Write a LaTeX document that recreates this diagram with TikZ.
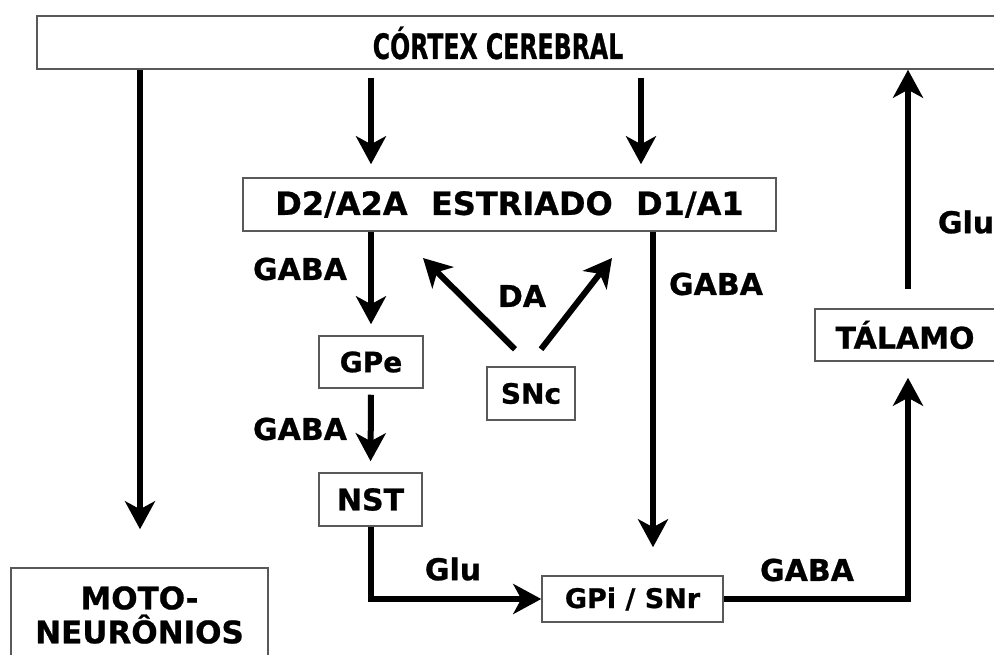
\documentclass[tikz,border=0pt]{standalone}
\usepackage{fontspec}
\setmainfont{DejaVu Sans}
\newfontfamily\heavyfont[FakeBold=0.8]{DejaVu Sans Bold}
\newfontfamily\condfont[FakeBold=0.8]{DejaVu Sans Condensed Bold}
\usetikzlibrary{arrows.meta,calc}
\tikzstyle{box} = [rectangle, draw=black!65, line width=1.5pt, inner sep=0pt,
font=\heavyfont\fontsize{30}{36}\selectfont]
\tikzstyle{line} = [draw, line width=6pt, -{Stealth[length=28pt,width=30pt,inset=8pt]}]
\tikzstyle{lbl} = [inner sep=0pt, font=\heavyfont\fontsize{30}{36}\selectfont]

\begin{document}
\begin{tikzpicture}[x=1pt, y=-1pt]
	\clip (0,0) rectangle (994,655);
	\fill[white] (0,0) rectangle (994,655);
	%% Boxes
	\node [box, minimum width=980pt, minimum height=53pt] (cortex) at (527,42.5) {};
	\node [lbl, font=\condfont\fontsize{35}{40}\selectfont] (cortextxt) at (498,43) {\scalebox{0.75}[1]{CÓRTEX CEREBRAL}};
	\node [box, minimum width=533pt, minimum height=53pt, font=\heavyfont\fontsize{32}{36}\selectfont] (estriado) at (509.5,204.5) {D2/A2A\hspace{0.73em}ESTRIADO\hspace{0.73em}D1/A1\hspace{24pt}};
	\node [box, minimum width=104pt, minimum height=52pt, font=\heavyfont\fontsize{28}{34}\selectfont] (gpe) at (371,362) {GPe};
	\node [box, minimum width=103pt, minimum height=53pt] (nst) at (370.5,499.5) {NST};
	\node [box, minimum width=88pt, minimum height=53pt, font=\heavyfont\fontsize{28}{34}\selectfont] (snc) at (531,393.5) {SNc};
	\node [box, minimum width=181pt, minimum height=46pt, font=\heavyfont\fontsize{27}{34}\selectfont] (gpi) at (632.5,599) {GPi / SNr};
	\node [box, minimum width=180pt, minimum height=52pt] (talamo) at (905,335) {TÁLAMO};
	\node [box, minimum width=257pt, minimum height=94pt, align=center, font=\heavyfont\fontsize{31}{34}\selectfont] (moto) at (139.5,615) {MOTO-\\NEURÔNIOS};
	%% Columns
	\coordinate (colL) at (140,0);
	\coordinate (colD2) at (371,0);
	\coordinate (colC) at (641,0);
	\coordinate (colD1) at (653,0);
	\coordinate (colR) at (908,0);
	\coordinate (daL) at (423,258);
	\coordinate (daR) at (612,258);
	%% Flows
	\path [line, shorten >=38pt] (cortex.south -| colL) -- (moto.north -| colL);
	\path [line, shorten <=8pt, shorten >=13pt] (cortex.south -| colD2) -- (estriado.north -| colD2);
	\path [line, shorten <=8pt, shorten >=13pt] (cortex.south -| colC) -- (estriado.north -| colC);
	\path [line, shorten >=11pt] (estriado.south -| colD2) -- (gpe.north);
	\path [line, shorten <=6pt, shorten >=11pt] (gpe.south) -- (nst.north);
	\path [line] (nst.south) |- (gpi.west);
	\path [line, shorten >=28pt] (estriado.south -| colD1) -- (gpi.north -| colD1);
	\path [line, shorten >=16pt] (gpi.east) -| (talamo.south -| colR);
	\path [line, shorten <=19pt] (talamo.north -| colR) -- (cortex.south -| colR);
	\path [line] ([shift={(-16,-17)}]snc.north) -- (daL);
	\path [line] ([shift={(10,-17)}]snc.north) -- (daR);
	%% Labels
	\node [lbl] (gaba1) at (300,269) {GABA};
	\node [lbl] (gaba2) at (300,429) {GABA};
	\node [lbl] (gaba3) at (716,284) {GABA};
	\node [lbl] (gaba4) at (807,570) {GABA};
	\node [lbl] (glu1) at (453,569) {Glu};
	\node [lbl] (glu2) at (966,222) {Glu};
	\node [lbl] (da) at (522,296) {DA};
\end{tikzpicture}
\end{document}
